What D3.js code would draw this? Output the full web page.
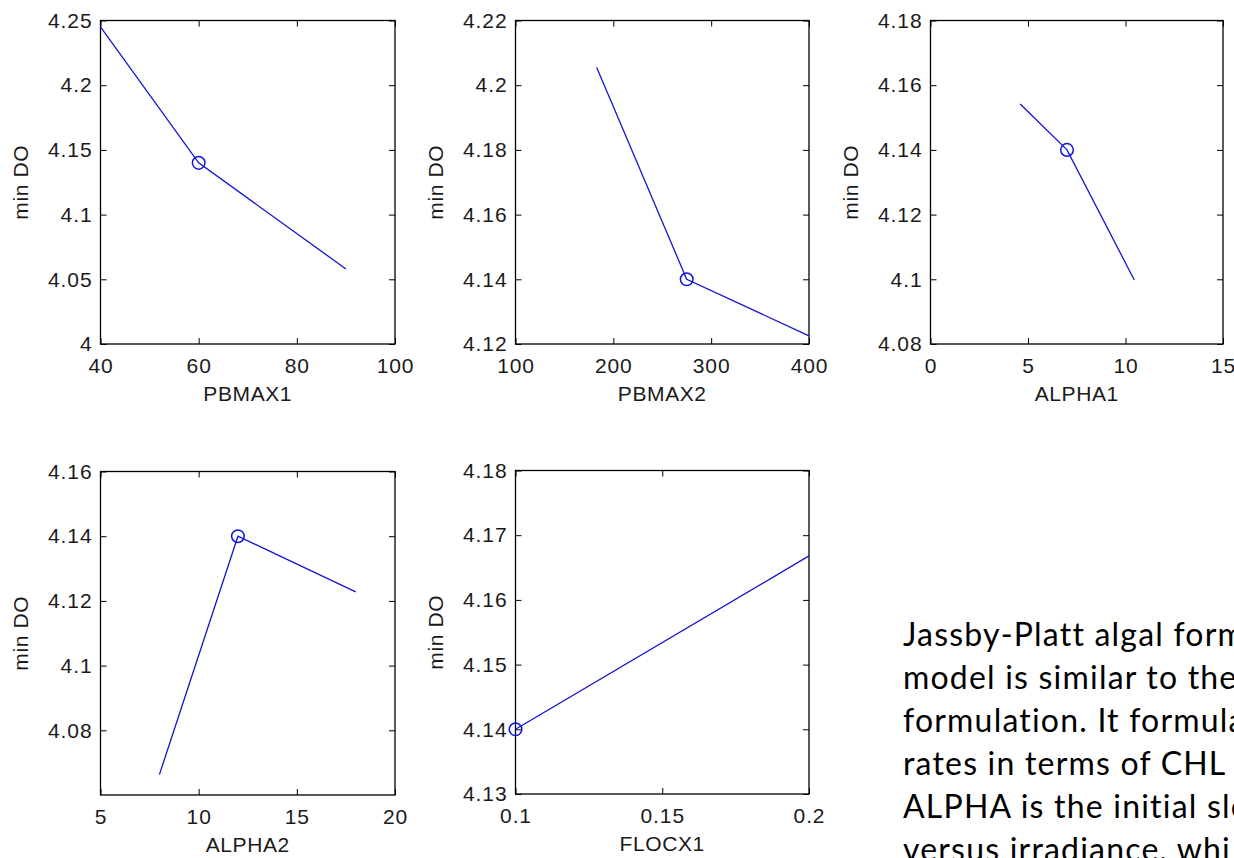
<!DOCTYPE html>
<html>
<head>
<meta charset="utf-8">
<script src="https://cdn.jsdelivr.net/npm/d3@7"></script>
<style>
  html, body { margin: 0; padding: 0; background: #fff; overflow: hidden; }
  svg { display: block; }
</style>
</head>
<body>
<svg id="chart" width="1234" height="858"></svg>
<script>
// ---------- data ----------
const yLabel = "min DO";

const pbmax1X = [40, 60, 90];
const pbmax1Y = [4.245, 4.14, 4.058];
const pbmax1XTicks = [40, 60, 80, 100];
const pbmax1YTicks = [4, 4.05, 4.1, 4.15, 4.2, 4.25];

const pbmax2X = [183, 275, 400];
const pbmax2Y = [4.2055, 4.14, 4.1225];
const pbmax2XTicks = [100, 200, 300, 400];
const pbmax2YTicks = [4.12, 4.14, 4.16, 4.18, 4.2, 4.22];

const alpha1X = [4.6, 7, 10.45];
const alpha1Y = [4.1542, 4.14, 4.0998];
const alpha1XTicks = [0, 5, 10, 15];
const alpha1YTicks = [4.08, 4.1, 4.12, 4.14, 4.16, 4.18];

const alpha2X = [8, 12, 18];
const alpha2Y = [4.0663, 4.14, 4.1228];
const alpha2XTicks = [5, 10, 15, 20];
const alpha2YTicks = [4.08, 4.1, 4.12, 4.14, 4.16];

const flocx1X = [0.1, 0.2];
const flocx1Y = [4.14, 4.1668];
const flocx1XTicks = [0.1, 0.15, 0.2];
const flocx1YTicks = [4.13, 4.14, 4.15, 4.16, 4.17, 4.18];

const noteLines = [
  "Jassby-Platt algal form",
  "model is similar to the",
  "formulation. It formula",
  "rates in terms of CHL i",
  "ALPHA is the initial slo",
  "versus irradiance, whi"
];

// ---------- panels ----------
const panels = [
  { name: "PBMAX1", xs: pbmax1X, ys: pbmax1Y, xDom: [40, 100], yDom: [4, 4.25], xt: pbmax1XTicks, yt: pbmax1YTicks, mark: 1,
    left: 100.5, top: 20.5, w: 294.5, h: 323.5 },
  { name: "PBMAX2", xs: pbmax2X, ys: pbmax2Y, xDom: [100, 400], yDom: [4.12, 4.22], xt: pbmax2XTicks, yt: pbmax2YTicks, mark: 1,
    left: 515.5, top: 20.5, w: 293.5, h: 323.5 },
  { name: "ALPHA1", xs: alpha1X, ys: alpha1Y, xDom: [0, 15], yDom: [4.08, 4.18], xt: alpha1XTicks, yt: alpha1YTicks, mark: 1,
    left: 930.5, top: 20.5, w: 292.5, h: 323.5 },
  { name: "ALPHA2", xs: alpha2X, ys: alpha2Y, xDom: [5, 20], yDom: [4.06, 4.16], xt: alpha2XTicks, yt: alpha2YTicks, mark: 1,
    left: 100.5, top: 471.5, w: 294.5, h: 323.5 },
  { name: "FLOCX1", xs: flocx1X, ys: flocx1Y, xDom: [0.1, 0.2], yDom: [4.13, 4.18], xt: flocx1XTicks, yt: flocx1YTicks, mark: 0,
    left: 515.5, top: 470.5, w: 293.5, h: 323.5 }
];

const svg = d3.select("#chart");
const fontFam = "'Liberation Sans', Arial, Helvetica, sans-serif";
const fmt = d3.format(".3~f");
const tickLen = 6;
const textColor = "#1a1a1a";

panels.forEach(p => {
  const x = d3.scaleLinear().domain(p.xDom).range([0, p.w]);
  const y = d3.scaleLinear().domain(p.yDom).range([p.h, 0]);
  const g = svg.append("g").attr("transform", `translate(${p.left},${p.top})`);

  const styleAxis = sel => {
    sel.select(".domain").remove();
    sel.selectAll(".tick line").attr("stroke", "#000").attr("stroke-width", 1);
    sel.selectAll(".tick text")
      .attr("fill", textColor)
      .style("font-family", fontFam)
      .style("font-size", "21px")
      .style("letter-spacing", "0.9px");
  };

  g.append("g").attr("transform", `translate(0,${p.h})`)
    .call(d3.axisBottom(x).tickValues(p.xt).tickFormat(fmt).tickSizeInner(-tickLen).tickSizeOuter(0).tickPadding(14))
    .call(styleAxis);
  g.append("g")
    .call(d3.axisTop(x).tickValues(p.xt).tickFormat("").tickSizeInner(-tickLen).tickSizeOuter(0))
    .call(styleAxis);
  g.append("g")
    .call(d3.axisLeft(y).tickValues(p.yt).tickFormat(fmt).tickSizeInner(-tickLen).tickSizeOuter(0).tickPadding(8))
    .call(styleAxis);
  g.append("g").attr("transform", `translate(${p.w},0)`)
    .call(d3.axisRight(y).tickValues(p.yt).tickFormat("").tickSizeInner(-tickLen).tickSizeOuter(0))
    .call(styleAxis);

  g.append("rect").attr("x", 0).attr("y", 0).attr("width", p.w).attr("height", p.h)
    .attr("fill", "none").attr("stroke", "#000").attr("stroke-width", 1.3);

  const pts = p.xs.map((v, i) => [v, p.ys[i]]);
  g.append("path").datum(pts)
    .attr("d", d3.line().x(d => x(d[0])).y(d => y(d[1])))
    .attr("fill", "none").attr("stroke", "#1414d0").attr("stroke-width", 1.3);

  g.append("circle")
    .attr("cx", x(p.xs[p.mark])).attr("cy", y(p.ys[p.mark])).attr("r", 6.3)
    .attr("fill", "none").attr("stroke", "#1414e0").attr("stroke-width", 1.5);

  g.append("text").attr("x", p.w / 2).attr("y", p.h + 57)
    .attr("text-anchor", "middle")
    .attr("fill", textColor)
    .style("font-family", fontFam).style("font-size", "21px").style("letter-spacing", "0.6px")
    .text(p.name);

  g.append("text")
    .attr("transform", `translate(${-73},${p.h / 2}) rotate(-90)`)
    .attr("text-anchor", "middle")
    .attr("fill", textColor)
    .style("font-family", fontFam).style("font-size", "21px").style("letter-spacing", "0.6px")
    .text(yLabel);
});

// ---------- note text ----------
const note = svg.append("text")
  .attr("fill", "#000")
  .style("font-family", "Lato, 'Open Sans', sans-serif")
  .style("font-size", "32px")
  .style("letter-spacing", "1.2px")
  .style("font-variant-ligatures", "none");
noteLines.forEach((t, i) => {
  note.append("tspan").attr("x", 903).attr("y", 646 + i * 43).text(t);
});
</script>
</body>
</html>
